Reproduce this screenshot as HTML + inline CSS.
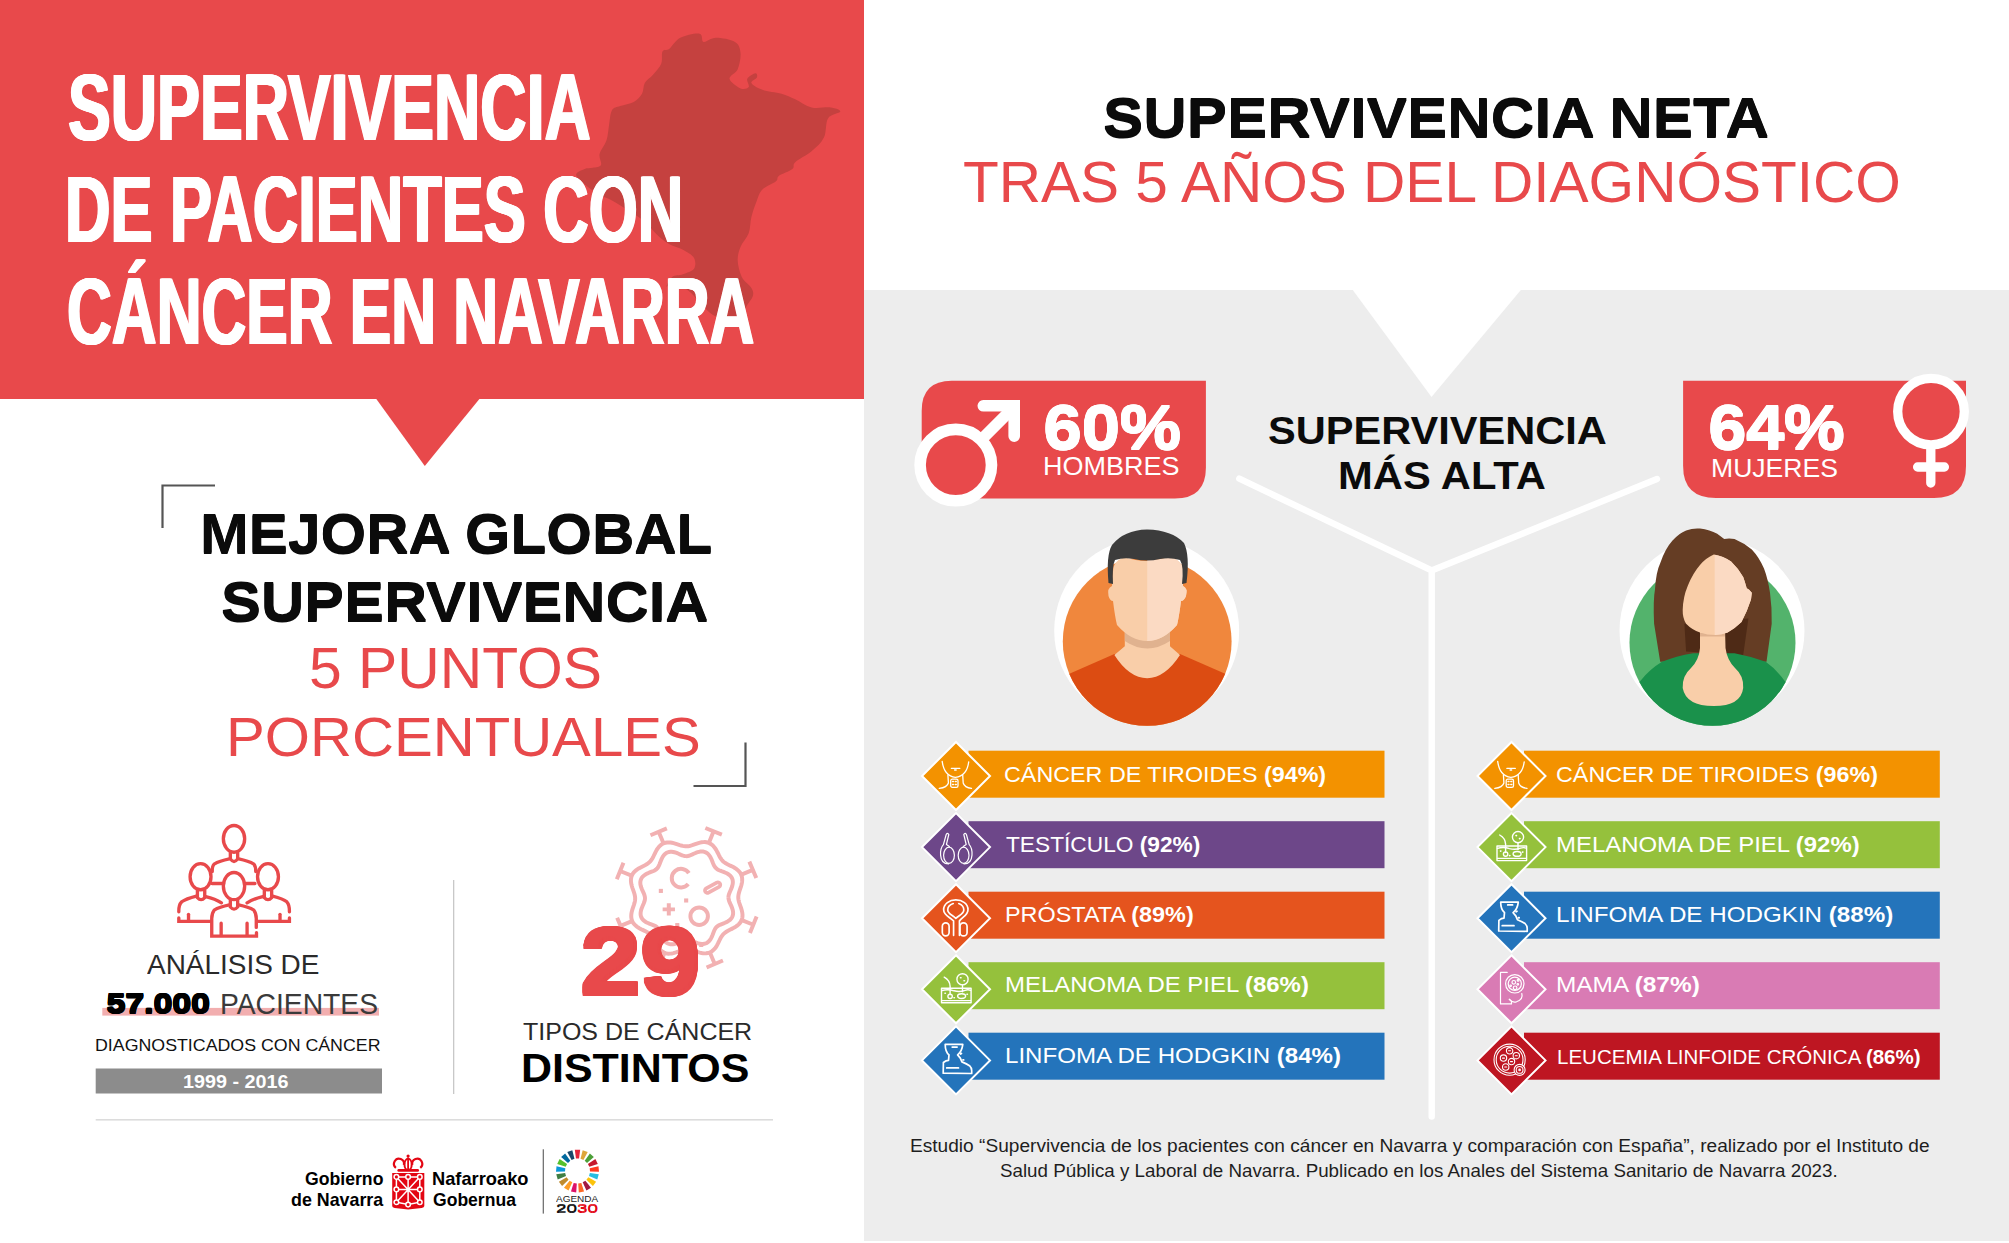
<!DOCTYPE html>
<html><head><meta charset="utf-8"><style>
html,body{margin:0;padding:0;}
body{width:2009px;height:1243px;position:relative;overflow:hidden;background:#fff;font-family:"Liberation Sans",sans-serif;}
.a{position:absolute;}
.t{position:absolute;white-space:nowrap;transform-origin:0 0;font-family:"Liberation Sans",sans-serif;}
svg{position:absolute;overflow:visible;}
</style></head><body>
<div class="a" style="left:0;top:0;width:864px;height:399px;background:#E8494B"></div>
<div class="a" style="left:864px;top:290px;width:1145px;height:951px;background:#EDEDED"></div>
<svg width="2009" height="1243" style="left:0;top:0" viewBox="0 0 2009 1243"><path d="M680.3 37.8 C685.3 35.3 695.6 33.0 699.5 33.7 C703.4 34.4 700.9 41.2 703.6 41.9 C706.3 42.6 710.7 37.8 715.9 37.8 C721.1 37.8 730.9 39.4 735.0 41.9 C739.1 44.4 740.0 48.2 740.5 52.8 C741.0 57.3 739.5 64.9 737.7 69.2 C735.9 73.5 729.0 75.6 729.5 78.8 C730.0 82.0 737.3 87.0 740.5 88.4 C743.7 89.8 747.6 88.6 748.7 87.0 C749.8 85.4 746.2 81.1 747.3 78.8 C748.4 76.5 753.9 73.5 755.5 73.3 C757.1 73.1 757.6 75.8 756.9 77.4 C756.2 79.0 750.5 80.9 751.4 82.9 C752.3 85.0 757.4 87.9 762.4 89.7 C767.4 91.5 776.0 92.2 781.5 93.8 C787.0 95.4 790.2 97.0 795.2 99.3 C800.2 101.6 805.7 106.1 811.6 107.5 C817.5 108.9 825.9 106.8 830.7 107.5 C835.5 108.2 840.8 109.8 840.3 111.6 C839.8 113.4 830.7 114.1 828.0 118.4 C825.3 122.7 826.6 132.1 823.9 137.6 C821.2 143.1 816.4 147.2 811.6 151.3 C806.8 155.4 798.4 159.2 795.2 162.2 C792.0 165.1 795.1 166.7 792.4 169.0 C789.7 171.3 781.5 173.8 778.8 175.9 C776.1 178.0 778.7 179.0 776.0 181.3 C773.3 183.6 765.6 186.3 762.4 189.5 C759.2 192.7 758.7 195.9 756.9 200.5 C755.1 205.1 752.8 211.4 751.4 216.9 C750.0 222.4 750.5 228.3 748.7 233.3 C746.9 238.3 742.3 242.4 740.5 247.0 C738.7 251.6 737.5 255.6 737.7 260.6 C737.9 265.6 739.5 272.4 741.8 277.0 C744.1 281.6 749.6 284.8 751.4 288.0 C753.2 291.2 753.7 293.0 752.8 296.2 C751.9 299.4 748.0 303.0 746.0 307.1 C744.0 311.2 742.3 318.1 740.5 320.8 C738.7 323.5 739.6 324.5 735.0 323.5 C730.4 322.5 718.9 318.6 713.0 315.0 C707.1 311.4 703.6 305.8 699.5 301.7 C695.4 297.6 692.6 293.9 688.5 290.7 C684.4 287.5 678.4 283.2 674.8 282.5 C671.1 281.8 667.0 287.5 666.6 286.6 C666.2 285.7 669.4 279.1 672.1 277.0 C674.8 274.9 679.4 275.7 683.0 274.3 C686.6 272.9 692.2 271.5 694.0 268.8 C695.8 266.1 695.8 261.1 694.0 257.9 C692.2 254.7 687.1 252.0 683.0 249.7 C678.9 247.4 673.5 246.5 669.4 244.2 C665.3 241.9 663.0 240.1 658.4 236.0 C653.8 231.9 647.5 224.2 642.0 219.6 C636.5 215.0 630.6 211.9 625.6 208.7 C620.6 205.5 617.0 203.2 612.0 200.5 C607.0 197.8 601.4 196.4 595.5 192.3 C589.6 188.2 578.2 179.8 576.4 175.9 C574.6 172.0 581.9 170.4 584.6 169.0 C587.3 167.6 590.1 168.4 592.8 167.7 C595.5 167.0 599.9 167.2 601.0 164.9 C602.1 162.6 598.7 158.1 599.6 154.0 C600.5 149.9 604.9 145.3 606.5 140.3 C608.1 135.3 608.3 128.9 609.2 123.9 C610.1 118.9 610.2 113.2 612.0 110.2 C613.8 107.2 616.6 107.5 620.2 106.1 C623.8 104.7 630.2 104.0 633.8 102.0 C637.4 100.0 640.2 97.0 642.0 93.8 C643.8 90.6 643.0 86.1 644.8 82.9 C646.6 79.7 650.3 77.9 653.0 74.7 C655.7 71.5 659.6 67.7 661.2 63.8 C662.8 59.9 661.1 53.9 662.5 51.4 C663.9 48.9 666.4 51.0 669.4 48.7 C672.4 46.4 675.3 40.3 680.3 37.8 Z" fill="#C5413F"/><polygon points="375.6,398 480.2,398 424.8,465.9" fill="#E8494B"/><path d="M215 485.5 L162.5 485.5 L162.5 528" fill="none" stroke="#555" stroke-width="2.2"/><path d="M693.5 786 L745.5 786 L745.5 742.5" fill="none" stroke="#555" stroke-width="2.2"/><rect x="102.3" y="1007.9" width="276.7" height="7.7" fill="#F2AEAF"/><rect x="95.7" y="1068.5" width="286.3" height="25" fill="#8C8C8C"/><rect x="453" y="880" width="1.3" height="214" fill="#C8C8C8"/><rect x="95.7" y="1119" width="677.3" height="1.6" fill="#DCDCDC"/><rect x="542.7" y="1149.3" width="1.2" height="64.3" fill="#666"/><polygon points="1352,289 1521.7,289 1431.5,397" fill="#fff"/><path d="M1239.3 478.7 L1431.7 570.5 L1657 479 M1431.7 570.5 L1431.7 1116.5" fill="none" stroke="#fff" stroke-width="6.4" stroke-linecap="round" stroke-linejoin="miter"/><path d="M951.7 380.7 L1205.9 380.7 L1205.9 467.5 Q1205.9 498.5 1174.9 498.5 L951.7 498.5 Q921.7 498.5 921.7 468.5 L921.7 410.7 Q921.7 380.7 951.7 380.7 Z" fill="#E8494B"/><path d="M1683.1 380.7 L1966 380.7 L1966 466 Q1966 498 1934 498 L1716 498 Q1683.1 498 1683.1 466 Z" fill="#E8494B"/><circle cx="955.8" cy="465.1" r="35.7" fill="#E8494B" stroke="#fff" stroke-width="11.6"/><path d="M980.5 440.5 L1012 409" stroke="#fff" stroke-width="11.6" fill="none"/><path d="M983.3 405.8 L1014.2 405.8 L1014.2 436.2" stroke="#fff" stroke-width="11.6" fill="none" stroke-linecap="round" stroke-linejoin="miter"/><circle cx="1931" cy="411.6" r="33.3" fill="#E8494B" stroke="#fff" stroke-width="9.3"/><path d="M1930.8 449 L1930.8 483 M1917.6 467 L1944.4 467" stroke="#fff" stroke-width="9.3" fill="none" stroke-linecap="round"/><circle cx="1146.7" cy="630.7" r="92.5" fill="#fff"/><clipPath id="cm"><circle cx="1147.2" cy="641.4" r="84.4"/></clipPath><circle cx="1147.2" cy="641.4" r="84.4" fill="#F0873D"/><g clip-path="url(#cm)"><path d="M1060 678 L1114.4 654 L1180 654 L1235 678 L1235 740 L1060 740 Z" fill="#DC4C12"/></g><path d="M1124.8 630 L1170 630 L1170 646.3 L1180 655 Q1165 678 1147.2 678.3 Q1129 678 1114.4 655 L1124.8 646.3 Z" fill="#F9CEA9"/><path d="M1124.8 628 L1170 628 L1170 641 Q1147.2 656 1124.8 641 Z" fill="#E0B28F"/><path d="M1113 572 Q1112 562 1124 557 Q1147 565 1171 557 Q1184 562 1183 572 L1183 586 Q1188 588 1186 596 Q1184 601 1181 601 Q1179 617 1177 625 Q1163 641 1147.2 641 Q1131 641 1117 625 Q1115 617 1113 601 Q1110 601 1108.5 596 Q1107 588 1112 586 Z" fill="#F9CEA9"/><path d="M1147.2 558 Q1159 561 1171 557 Q1184 562 1183 572 L1183 586 Q1188 588 1186 596 Q1184 601 1181 601 Q1179 617 1177 625 Q1163 641 1147.2 641 Z" fill="#FBDAC3"/><path d="M1108.5 583 Q1106 555 1112 545 Q1124 530 1147 529.5 Q1172 530 1184 543 Q1190 555 1186.5 583 L1182 584 Q1184 566 1180 560 Q1170 557 1160 559 Q1147 562 1134 559 Q1124 557 1115 560 Q1112 566 1113 584 Z" fill="#3C3C3C"/><circle cx="1712" cy="630.7" r="92.5" fill="#fff"/><clipPath id="cf"><circle cx="1712.5" cy="642.8" r="83"/></clipPath><circle cx="1712.5" cy="642.8" r="83" fill="#53B36C"/><path d="M1660.2 661.8 L1654.1 623.8 Q1653 600 1655 589.2 Q1656 572 1660.2 563.2 Q1665 549 1672.3 540.8 Q1679 533 1686.1 530.4 Q1693 528 1700 528.6 Q1710 530 1717.2 533.8 L1724.2 539 Q1729 538 1734.5 539 Q1744 543 1751.8 549.4 Q1759 557 1764 568.4 Q1768 579 1770 592.7 Q1772 607 1771.7 623.8 L1766.5 661.8 Z" fill="#653D24"/><path d="M1684.4 623.8 L1748.4 618.6 L1743.2 655 L1686.1 651.5 Z" fill="#4E2A16"/><g clip-path="url(#cf)"><path d="M1620 700 L1640.3 680.9 Q1650 669 1662 661.8 Q1676 656 1693 653.2 L1734.5 653.2 Q1750 656 1765.7 661.8 Q1776 669 1784.7 680.9 L1805 700 L1805 740 L1620 740 Z" fill="#1A914B"/></g><path d="M1700 628 L1725 628 L1725.5 648 Q1727 660 1735 668 Q1744 676 1743.2 688 Q1741 706 1713.8 706 Q1686 706 1682.7 688 Q1682 676 1691 668 Q1699 660 1700 648 Z" fill="#F9CEA9"/><path d="M1700 633 L1725 633 L1725 636.5 L1700 636.5 Z" fill="#E0B28F"/><path d="M1713.8 554.6 Q1706 558 1700 565 Q1693 573 1687.8 585.7 Q1683 597 1682.7 610 Q1682.5 618 1686.1 623.8 Q1692 630 1700 632.4 Q1707 635 1715.5 635 Q1722 634.5 1727.6 632.4 Q1735 628.5 1741.5 622 Q1747 612 1751 599.6 L1751.8 592.7 Q1749 589 1746.7 588.3 Q1745 582 1743.2 577.1 Q1738 568 1731.1 561.5 Q1723 556 1713.8 554.6 Z" fill="#F9CEA9"/><path d="M1714.7 554.7 Q1723 556 1731.1 561.5 Q1738 568 1743.2 577.1 Q1745 582 1746.7 588.3 Q1749 589 1751.8 592.7 L1751 599.6 Q1747 612 1741.5 622 Q1735 628.5 1727.6 632.4 Q1722 634.5 1715.5 635 L1714.7 635 Z" fill="#FBDAC3"/><rect x="968.5" y="750.7" width="416.0" height="47" fill="#F39200"/><rect x="1524" y="750.7" width="415.8" height="47" fill="#F39200"/><rect x="968.5" y="821.2" width="416.0" height="47" fill="#6D4789"/><rect x="1524" y="821.2" width="415.8" height="47" fill="#95C13C"/><rect x="968.5" y="891.7" width="416.0" height="47" fill="#E5541E"/><rect x="1524" y="891.7" width="415.8" height="47" fill="#2474BB"/><rect x="968.5" y="962.2" width="416.0" height="47" fill="#95C13C"/><rect x="1524" y="962.2" width="415.8" height="47" fill="#D97BB4"/><rect x="968.5" y="1032.7" width="416.0" height="47" fill="#2474BB"/><rect x="1524" y="1032.7" width="415.8" height="47" fill="#BE1622"/><polygon points="956,742.0 990,776.0 956,810.0 922,776.0" fill="#F39200" stroke="#fff" stroke-width="2"/><polygon points="1511.5,742.0 1545.5,776.0 1511.5,810.0 1477.5,776.0" fill="#F39200" stroke="#fff" stroke-width="2"/><polygon points="956,813.1 990,847.1 956,881.1 922,847.1" fill="#6D4789" stroke="#fff" stroke-width="2"/><polygon points="1511.5,813.1 1545.5,847.1 1511.5,881.1 1477.5,847.1" fill="#95C13C" stroke="#fff" stroke-width="2"/><polygon points="956,884.2 990,918.2 956,952.2 922,918.2" fill="#E5541E" stroke="#fff" stroke-width="2"/><polygon points="1511.5,884.2 1545.5,918.2 1511.5,952.2 1477.5,918.2" fill="#2474BB" stroke="#fff" stroke-width="2"/><polygon points="956,955.3 990,989.3 956,1023.3 922,989.3" fill="#95C13C" stroke="#fff" stroke-width="2"/><polygon points="1511.5,955.3 1545.5,989.3 1511.5,1023.3 1477.5,989.3" fill="#D97BB4" stroke="#fff" stroke-width="2"/><polygon points="956,1026.4 990,1060.4 956,1094.4 922,1060.4" fill="#2474BB" stroke="#fff" stroke-width="2"/><polygon points="1511.5,1026.4 1545.5,1060.4 1511.5,1094.4 1477.5,1060.4" fill="#BE1622" stroke="#fff" stroke-width="2"/><g transform="translate(956.0,776.0) scale(1)" fill="none" stroke="#fff" stroke-width="1.3" stroke-linecap="round" stroke-linejoin="round"><path d="M-13.8 -14.6 Q-12 0 -0.6 1.3 Q11 0 12.7 -14.1"/><path d="M-4.6 -7.6 L3.8 -7.6 M-1.4 -6 L0.2 -6"/><path d="M-8.1 -1.1 L-7.6 7 Q-9 11.5 -16.7 12.4"/><path d="M6.7 -1.1 L7.2 7 Q8.5 11.5 15.5 12.4"/><rect x="-5.3" y="3.2" width="7.3" height="8.1" rx="1.6"/><path d="M-3.4 5.5 L-2.6 5.5 M-0.6 5.5 L0.2 5.5 M-3.4 8.5 L-2.6 8.5 M-0.6 8.5 L0.2 8.5" stroke-width="1.6"/></g><g transform="translate(1511.5,776.0) scale(1)" fill="none" stroke="#fff" stroke-width="1.3" stroke-linecap="round" stroke-linejoin="round"><path d="M-13.8 -14.6 Q-12 0 -0.6 1.3 Q11 0 12.7 -14.1"/><path d="M-4.6 -7.6 L3.8 -7.6 M-1.4 -6 L0.2 -6"/><path d="M-8.1 -1.1 L-7.6 7 Q-9 11.5 -16.7 12.4"/><path d="M6.7 -1.1 L7.2 7 Q8.5 11.5 15.5 12.4"/><rect x="-5.3" y="3.2" width="7.3" height="8.1" rx="1.6"/><path d="M-3.4 5.5 L-2.6 5.5 M-0.6 5.5 L0.2 5.5 M-3.4 8.5 L-2.6 8.5 M-0.6 8.5 L0.2 8.5" stroke-width="1.6"/></g><g transform="translate(956.0,847.1) scale(1)" fill="none" stroke="#fff" stroke-width="1.2" stroke-linecap="round" stroke-linejoin="round"><ellipse cx="-7" cy="8.2" rx="5.4" ry="8.1"/><path d="M-7.5 16.8 Q-14.8 16.6 -15.4 8 Q-15.8 1 -12.6 -2.4 L-9.8 -12.6 Q-8.4 -15 -7.2 -12.6 L-9.6 -2.6 Q-8 -1.6 -6.6 -0.6"/><g transform="translate(0.6,0) scale(-1,1)"><ellipse cx="-7" cy="8.2" rx="5.4" ry="8.1"/><path d="M-7.5 16.8 Q-14.8 16.6 -15.4 8 Q-15.8 1 -12.6 -2.4 L-9.8 -12.6 Q-8.4 -15 -7.2 -12.6 L-9.6 -2.6 Q-8 -1.6 -6.6 -0.6"/></g></g><g transform="translate(1511.5,847.1) scale(1)" fill="none" stroke="#fff" stroke-width="1.4" stroke-linecap="round" stroke-linejoin="round"><rect x="-14.5" y="-1.1" width="29.6" height="14.6"/><path d="M-14 11.3 L14.6 11.3"/><path d="M-14 1.2 Q-8 -0.5 -2 1.5 Q4 3 9 1 Q12 0 14.6 1"/><path d="M-11.8 -12.1 Q-6.2 -9 -5.9 -3 L-5.9 5.5"/><circle cx="-5.9" cy="7" r="2.2"/><circle cx="6.5" cy="-10" r="5.6"/><path d="M6.5 -4.4 L6.5 2.4"/><ellipse cx="5.6" cy="6.8" rx="4" ry="2.4"/><path d="M4.5 -11.5 L5 -11.5 M8 -8.5 L8.5 -8.5 M-11 4 L-10.6 4 M11 5 L11.4 5 M-2 8.5 L-1.6 8.5" stroke-width="1.6"/></g><g transform="translate(956.0,917.7) scale(0.93)" fill="none" stroke="#fff" stroke-width="1.8" stroke-linecap="round" stroke-linejoin="round"><path d="M-2.6 19 L-2.6 3.4 C-8 -1.5 -13.3 -3 -13.3 -8.6 C-13.3 -15 -7 -19.1 -0.2 -19.1 C7 -19.1 12.9 -15 12.9 -8.6 C12.9 -3 8 -1.5 3.7 3.4 L3.7 19"/><path d="M-3 -15.2 C-6.5 -14 -8.9 -11.5 -8.9 -8.3 C-8.9 -4 -3 -2.5 -0.2 0.8 C3 -2.5 8.4 -4 8.4 -8.3 C8.4 -11.5 6 -14 3 -15.2"/><rect x="-14.7" y="5.5" width="7.3" height="14.1" rx="3.6"/><rect x="4.3" y="5.5" width="7.6" height="14.1" rx="3.7"/></g><g transform="translate(1511.5,918.2) scale(1)" fill="none" stroke="#fff" stroke-width="1.7" stroke-linecap="round" stroke-linejoin="round"><path d="M-10.8 -16 L6.8 -16 Q6 -9 1.6 -5.5 L4.3 -2.3 L5.9 1.5 Q11 3.5 13.5 5.3 Q15.7 7.5 15.7 10.1 L15.7 13.1 L-12.8 12.8 L-12.6 2.1 Q-10 0 -7.5 0 L-7 -5.5 Q-10.8 -9 -10.8 -16 Z"/><path d="M-3.8 -13.3 L1.1 -13.3 M-9.3 7.5 L2.5 7.5"/><path d="M4.6 -6.5 L5.4 -7 M7 -0.5 L7.6 -0.5" stroke-width="1.9"/></g><g transform="translate(956.0,989.3) scale(1)" fill="none" stroke="#fff" stroke-width="1.4" stroke-linecap="round" stroke-linejoin="round"><rect x="-14.5" y="-1.1" width="29.6" height="14.6"/><path d="M-14 11.3 L14.6 11.3"/><path d="M-14 1.2 Q-8 -0.5 -2 1.5 Q4 3 9 1 Q12 0 14.6 1"/><path d="M-11.8 -12.1 Q-6.2 -9 -5.9 -3 L-5.9 5.5"/><circle cx="-5.9" cy="7" r="2.2"/><circle cx="6.5" cy="-10" r="5.6"/><path d="M6.5 -4.4 L6.5 2.4"/><ellipse cx="5.6" cy="6.8" rx="4" ry="2.4"/><path d="M4.5 -11.5 L5 -11.5 M8 -8.5 L8.5 -8.5 M-11 4 L-10.6 4 M11 5 L11.4 5 M-2 8.5 L-1.6 8.5" stroke-width="1.6"/></g><g transform="translate(1511.5,989.3) scale(1)" fill="none" stroke="#fff" stroke-width="1.2" stroke-linecap="round" stroke-linejoin="round"><path d="M-4.3 -16.9 L-11 -16.9 L-11 14.6 L0 14.6 L0 11.8 L-2.2 10"/><circle cx="3.3" cy="-5.5" r="9.2"/><circle cx="3.3" cy="-5.5" r="6.6"/><path d="M10.3 4.2 Q12 10 5 12.5 Q0 13.5 -2.2 10"/><circle cx="2.3" cy="-7" r="1.8"/><circle cx="3.6" cy="-1.5" r="1.8"/><circle cx="6.6" cy="-9" r="0.9"/><circle cx="6.3" cy="-5" r="0.8"/><circle cx="-0.9" cy="-3.5" r="0.8"/></g><g transform="translate(956.0,1060.4) scale(1)" fill="none" stroke="#fff" stroke-width="1.7" stroke-linecap="round" stroke-linejoin="round"><path d="M-10.8 -16 L6.8 -16 Q6 -9 1.6 -5.5 L4.3 -2.3 L5.9 1.5 Q11 3.5 13.5 5.3 Q15.7 7.5 15.7 10.1 L15.7 13.1 L-12.8 12.8 L-12.6 2.1 Q-10 0 -7.5 0 L-7 -5.5 Q-10.8 -9 -10.8 -16 Z"/><path d="M-3.8 -13.3 L1.1 -13.3 M-9.3 7.5 L2.5 7.5"/><path d="M4.6 -6.5 L5.4 -7 M7 -0.5 L7.6 -0.5" stroke-width="1.9"/></g><g transform="translate(1511.5,1060.4) scale(1)" fill="none" stroke="#fff" stroke-width="1.1" stroke-linecap="round" stroke-linejoin="round"><circle cx="-1.9" cy="-0.7" r="15.6"/><circle cx="-1.9" cy="-0.7" r="13.4"/><circle cx="8.1" cy="9.5" r="5.5" fill="#BE1622"/><circle cx="8.1" cy="9.5" r="3.4"/><circle cx="8.1" cy="9.5" r="0.8"/><circle cx="-1.9" cy="-9.6" r="3.2"/><circle cx="4.8" cy="-4.7" r="3.2"/><circle cx="-8" cy="-2.3" r="3.2"/><circle cx="0" cy="1.2" r="3.2"/><circle cx="-5.8" cy="6.6" r="3.2"/><path d="M-2.9 -9.6 L-0.9 -9.6 M3.8 -4.7 L5.8 -4.7 M-9 -2.3 L-7 -2.3 M-1 1.2 L1 1.2 M-6.8 6.6 L-4.8 6.6"/></g><g transform="translate(165,815) scale(0.10456)" fill="none" stroke="#E8494B" stroke-width="32" stroke-linecap="round"><ellipse cx="660" cy="228" rx="102" ry="128"/><path d="M625 360 L625 420 Q660 470 695 420 L695 360"/><path d="M615 420 Q520 440 470 470 Q450 490 452 540"/><path d="M705 420 Q800 440 850 470 Q868 490 868 540"/><path d="M450 655 L560 655 M770 655 L860 655"/><ellipse cx="340" cy="590" rx="100" ry="125"/><path d="M310 720 L310 790 Q345 830 380 790 L380 720"/><path d="M300 775 Q200 800 160 830 Q130 860 132 925"/><path d="M390 780 Q480 800 540 840"/><path d="M132 985 L132 1018 L430 1018"/><path d="M225 950 L225 1010"/><ellipse cx="985" cy="590" rx="100" ry="125"/><path d="M950 720 L950 790 Q985 830 1020 790 L1020 720"/><path d="M935 780 Q850 800 785 840"/><path d="M1030 775 Q1130 800 1165 830 Q1192 860 1190 925"/><path d="M1190 985 L1190 1018 L885 1018"/><path d="M1100 950 L1100 1010"/><ellipse cx="660" cy="680" rx="102" ry="130"/><path d="M625 815 L625 880 Q660 920 695 880 L695 815"/><path d="M615 860 Q520 880 470 910 Q447 940 447 990 L447 1158 L875 1158 L875 1125"/><path d="M705 860 Q800 880 850 910 Q873 940 873 990 L873 1075"/><path d="M537 1035 L537 1150 M785 1035 L785 1150"/></g><g transform="translate(600,815) scale(0.13677)" fill="none" stroke="#F2B1B2" stroke-width="29"><path d="M1011.1 606.0 L1012.0 615.9 L1013.8 625.9 L1016.4 636.1 L1019.6 646.5 L1023.4 657.3 L1027.3 668.3 L1031.3 679.6 L1034.9 691.2 L1038.0 703.0 L1040.3 714.9 L1041.6 726.7 L1041.8 738.5 L1040.6 750.0 L1038.0 761.1 L1034.0 771.7 L1028.6 781.7 L1021.9 791.0 L1014.0 799.6 L1005.1 807.5 L995.4 814.6 L985.1 821.2 L974.5 827.1 L963.8 832.6 L953.2 837.9 L942.9 843.0 L933.1 848.2 L923.9 853.6 L915.4 859.4 L907.7 865.7 L900.6 872.6 L894.3 880.3 L888.5 888.6 L883.1 897.7 L878.0 907.3 L873.1 917.6 L868.1 928.2 L862.8 939.0 L857.2 949.7 L851.1 960.3 L844.3 970.3 L836.9 979.6 L828.6 988.0 L819.7 995.3 L810.0 1001.3 L799.7 1006.0 L788.8 1009.2 L777.4 1011.1 L765.8 1011.6 L753.9 1010.9 L742.0 1009.1 L730.1 1006.4 L718.4 1003.1 L706.9 999.4 L695.7 995.7 L684.8 992.0 L674.2 988.8 L663.9 986.1 L653.8 984.2 L643.9 983.1 L634.0 983.1 L624.1 984.0 L614.1 985.8 L603.9 988.4 L593.5 991.6 L582.7 995.4 L571.7 999.3 L560.4 1003.3 L548.8 1006.9 L537.0 1010.0 L525.1 1012.3 L513.3 1013.6 L501.5 1013.8 L490.0 1012.6 L478.9 1010.0 L468.3 1006.0 L458.3 1000.6 L449.0 993.9 L440.4 986.0 L432.5 977.1 L425.4 967.4 L418.8 957.1 L412.9 946.5 L407.4 935.8 L402.1 925.2 L397.0 914.9 L391.8 905.1 L386.4 895.9 L380.6 887.4 L374.3 879.7 L367.4 872.6 L359.7 866.3 L351.4 860.5 L342.3 855.1 L332.7 850.0 L322.4 845.1 L311.8 840.1 L301.0 834.8 L290.3 829.2 L279.7 823.1 L269.7 816.3 L260.4 808.9 L252.0 800.6 L244.7 791.7 L238.7 782.0 L234.0 771.7 L230.8 760.8 L228.9 749.4 L228.4 737.8 L229.1 725.9 L230.9 714.0 L233.6 702.1 L236.9 690.4 L240.6 678.9 L244.3 667.7 L248.0 656.8 L251.2 646.2 L253.9 635.9 L255.8 625.8 L256.9 615.9 L256.9 606.0 L256.0 596.1 L254.2 586.1 L251.6 575.9 L248.4 565.5 L244.6 554.7 L240.7 543.7 L236.7 532.4 L233.1 520.8 L230.0 509.0 L227.7 497.1 L226.4 485.3 L226.2 473.5 L227.4 462.0 L230.0 450.9 L234.0 440.3 L239.4 430.3 L246.1 421.0 L254.0 412.4 L262.9 404.5 L272.6 397.4 L282.9 390.8 L293.5 384.9 L304.2 379.4 L314.8 374.1 L325.1 369.0 L334.9 363.8 L344.1 358.4 L352.6 352.6 L360.3 346.3 L367.4 339.4 L373.7 331.7 L379.5 323.4 L384.9 314.3 L390.0 304.7 L394.9 294.4 L399.9 283.8 L405.2 273.0 L410.8 262.3 L416.9 251.7 L423.7 241.7 L431.1 232.4 L439.4 224.0 L448.3 216.7 L458.0 210.7 L468.3 206.0 L479.2 202.8 L490.6 200.9 L502.2 200.4 L514.1 201.1 L526.0 202.9 L537.9 205.6 L549.6 208.9 L561.1 212.6 L572.3 216.3 L583.2 220.0 L593.8 223.2 L604.1 225.9 L614.2 227.8 L624.1 228.9 L634.0 228.9 L643.9 228.0 L653.9 226.2 L664.1 223.6 L674.5 220.4 L685.3 216.6 L696.3 212.7 L707.6 208.7 L719.2 205.1 L731.0 202.0 L742.9 199.7 L754.7 198.4 L766.5 198.2 L778.0 199.4 L789.1 202.0 L799.7 206.0 L809.7 211.4 L819.0 218.1 L827.6 226.0 L835.5 234.9 L842.6 244.6 L849.2 254.9 L855.1 265.5 L860.6 276.2 L865.9 286.8 L871.0 297.1 L876.2 306.9 L881.6 316.1 L887.4 324.6 L893.7 332.3 L900.6 339.4 L908.3 345.7 L916.6 351.5 L925.7 356.9 L935.3 362.0 L945.6 366.9 L956.2 371.9 L967.0 377.2 L977.7 382.8 L988.3 388.9 L998.3 395.7 L1007.6 403.1 L1016.0 411.4 L1023.3 420.3 L1029.3 430.0 L1034.0 440.3 L1037.2 451.2 L1039.1 462.6 L1039.6 474.2 L1038.9 486.1 L1037.1 498.0 L1034.4 509.9 L1031.1 521.6 L1027.4 533.1 L1023.7 544.3 L1020.0 555.2 L1016.8 565.8 L1014.1 576.1 L1012.2 586.2 L1011.1 596.1 L1011.1 606.0"/><path d="M939.1 606.0 L940.0 614.0 L941.9 622.1 L944.6 630.4 L948.0 639.0 L952.0 647.9 L956.2 657.0 L960.5 666.5 L964.5 676.2 L968.0 686.2 L970.8 696.2 L972.6 706.3 L973.3 716.2 L972.7 725.9 L970.8 735.3 L967.5 744.1 L962.8 752.4 L956.9 760.0 L949.8 766.9 L941.8 773.1 L933.0 778.6 L923.7 783.5 L914.1 787.9 L904.4 791.9 L894.9 795.6 L885.8 799.2 L877.1 802.9 L869.2 806.8 L861.9 811.2 L855.4 816.1 L849.7 821.7 L844.7 828.0 L840.3 835.1 L836.3 842.9 L832.7 851.4 L829.2 860.4 L825.8 869.9 L822.1 879.6 L818.0 889.4 L813.5 898.9 L808.3 907.9 L802.5 916.3 L796.0 923.9 L788.7 930.3 L780.7 935.5 L772.1 939.5 L763.0 942.0 L753.4 943.2 L743.5 943.1 L733.5 941.8 L723.4 939.5 L713.3 936.4 L703.4 932.7 L693.8 928.6 L684.5 924.5 L675.4 920.6 L666.7 917.1 L658.3 914.3 L650.1 912.3 L642.0 911.2 L634.0 911.1 L626.0 912.0 L617.9 913.9 L609.6 916.6 L601.0 920.0 L592.1 924.0 L583.0 928.2 L573.5 932.5 L563.8 936.5 L553.8 940.0 L543.8 942.8 L533.7 944.6 L523.8 945.3 L514.1 944.7 L504.7 942.8 L495.9 939.5 L487.6 934.8 L480.0 928.9 L473.1 921.8 L466.9 913.8 L461.4 905.0 L456.5 895.7 L452.1 886.1 L448.1 876.4 L444.4 866.9 L440.8 857.8 L437.1 849.1 L433.2 841.2 L428.8 833.9 L423.9 827.4 L418.3 821.7 L412.0 816.7 L404.9 812.3 L397.1 808.3 L388.6 804.7 L379.6 801.2 L370.1 797.8 L360.4 794.1 L350.6 790.0 L341.1 785.5 L332.1 780.3 L323.7 774.5 L316.1 768.0 L309.7 760.7 L304.5 752.7 L300.5 744.1 L298.0 735.0 L296.8 725.4 L296.9 715.5 L298.2 705.5 L300.5 695.4 L303.6 685.3 L307.3 675.4 L311.4 665.8 L315.5 656.5 L319.4 647.4 L322.9 638.7 L325.7 630.3 L327.7 622.1 L328.8 614.0 L328.9 606.0 L328.0 598.0 L326.1 589.9 L323.4 581.6 L320.0 573.0 L316.0 564.1 L311.8 555.0 L307.5 545.5 L303.5 535.8 L300.0 525.8 L297.2 515.8 L295.4 505.7 L294.7 495.8 L295.3 486.1 L297.2 476.7 L300.5 467.9 L305.2 459.6 L311.1 452.0 L318.2 445.1 L326.2 438.9 L335.0 433.4 L344.3 428.5 L353.9 424.1 L363.6 420.1 L373.1 416.4 L382.2 412.8 L390.9 409.1 L398.8 405.2 L406.1 400.8 L412.6 395.9 L418.3 390.3 L423.3 384.0 L427.7 376.9 L431.7 369.1 L435.3 360.6 L438.8 351.6 L442.2 342.1 L445.9 332.4 L450.0 322.6 L454.5 313.1 L459.7 304.1 L465.5 295.7 L472.0 288.1 L479.3 281.7 L487.3 276.5 L495.9 272.5 L505.0 270.0 L514.6 268.8 L524.5 268.9 L534.5 270.2 L544.6 272.5 L554.7 275.6 L564.6 279.3 L574.2 283.4 L583.5 287.5 L592.6 291.4 L601.3 294.9 L609.7 297.7 L617.9 299.7 L626.0 300.8 L634.0 300.9 L642.0 300.0 L650.1 298.1 L658.4 295.4 L667.0 292.0 L675.9 288.0 L685.0 283.8 L694.5 279.5 L704.2 275.5 L714.2 272.0 L724.2 269.2 L734.3 267.4 L744.2 266.7 L753.9 267.3 L763.3 269.2 L772.1 272.5 L780.4 277.2 L788.0 283.1 L794.9 290.2 L801.1 298.2 L806.6 307.0 L811.5 316.3 L815.9 325.9 L819.9 335.6 L823.6 345.1 L827.2 354.2 L830.9 362.9 L834.8 370.8 L839.2 378.1 L844.1 384.6 L849.7 390.3 L856.0 395.3 L863.1 399.7 L870.9 403.7 L879.4 407.3 L888.4 410.8 L897.9 414.2 L907.6 417.9 L917.4 422.0 L926.9 426.5 L935.9 431.7 L944.3 437.5 L951.9 444.0 L958.3 451.3 L963.5 459.3 L967.5 467.9 L970.0 477.0 L971.2 486.6 L971.1 496.5 L969.8 506.5 L967.5 516.6 L964.4 526.7 L960.7 536.6 L956.6 546.2 L952.5 555.5 L948.6 564.6 L945.1 573.3 L942.3 581.7 L940.3 589.9 L939.2 598.0 L939.1 606.0"/><path d="M1032.7 767.1 L1120.8 802.7 M1145.1 742.4 L1096.4 862.9"/><path d="M802.0 1001.8 L839.1 1089.3 M899.0 1063.9 L779.3 1114.7"/><path d="M472.9 1004.7 L437.3 1092.8 M497.6 1117.1 L377.1 1068.4"/><path d="M238.2 774.0 L150.7 811.1 M176.1 871.0 L125.3 751.3"/><path d="M235.3 444.9 L147.2 409.3 M122.9 469.6 L171.6 349.1"/><path d="M466.0 210.2 L428.9 122.7 M369.0 148.1 L488.7 97.3"/><path d="M795.1 207.3 L830.7 119.2 M770.4 94.9 L890.9 143.6"/><path d="M1029.8 438.0 L1117.3 400.9 M1091.9 341.0 L1142.7 460.7"/><path d="M650 425 A68 68 0 1 0 645 505"/><path d="M785 552 L862 510" stroke-width="62" stroke-linecap="round"/><path d="M785 552 L862 510" stroke="#fff" stroke-width="8" stroke-linecap="round"/><circle cx="725" cy="740" r="64"/><path d="M458 690 L548 690 M503 645 L503 735"/><rect x="430" y="540" width="30" height="30" fill="#F2B1B2" stroke="none"/><rect x="615" y="610" width="30" height="30" fill="#F2B1B2" stroke="none"/><rect x="550" y="790" width="30" height="30" fill="#F2B1B2" stroke="none"/><rect x="725" y="935" width="30" height="30" fill="#F2B1B2" stroke="none"/></g><g transform="translate(391.7,1154.4)"><path d="M0.5 18.6 L32.6 18.6 L32.6 51.5 Q32.6 53 30 53.5 L16.5 55 L3 53.5 Q0.5 53 0.5 51.5 Z" fill="#E30613"/><path d="M4.7 22.5 L16.4 22.5 L28.1 22.5 L28.1 35 L28.1 47.8 L16.4 50.2 L4.7 47.8 L4.7 35 Z M4.7 22.5 L28.1 47.8 M28.1 22.5 L4.7 47.8 M16.4 22.5 L16.4 50.2 M4.7 35 L28.1 35" fill="none" stroke="#fff" stroke-width="1.5"/><circle cx="4.7" cy="22.5" r="2.3" fill="#E30613" stroke="#fff" stroke-width="1.5"/><circle cx="16.4" cy="22.5" r="2.3" fill="#E30613" stroke="#fff" stroke-width="1.5"/><circle cx="28.1" cy="22.5" r="2.3" fill="#E30613" stroke="#fff" stroke-width="1.5"/><circle cx="28.1" cy="35" r="2.3" fill="#E30613" stroke="#fff" stroke-width="1.5"/><circle cx="28.1" cy="47.8" r="2.3" fill="#E30613" stroke="#fff" stroke-width="1.5"/><circle cx="16.4" cy="50.2" r="2.3" fill="#E30613" stroke="#fff" stroke-width="1.5"/><circle cx="4.7" cy="47.8" r="2.3" fill="#E30613" stroke="#fff" stroke-width="1.5"/><circle cx="4.7" cy="35" r="2.3" fill="#E30613" stroke="#fff" stroke-width="1.5"/><path d="M7 16 L26 16" stroke="#E30613" stroke-width="2.6" stroke-linecap="round"/><path d="M4.2 13.5 A5 5.2 0 1 1 12.2 10.5 M28.6 13.5 A5 5.2 0 1 0 20.6 10.5" fill="none" stroke="#E30613" stroke-width="2.2"/><ellipse cx="16.4" cy="10" rx="3.6" ry="5.6" fill="none" stroke="#E30613" stroke-width="2"/><path d="M16.4 3 L16.4 15" stroke="#E30613" stroke-width="1.8"/><circle cx="16.4" cy="1.6" r="1.6" fill="#E30613"/></g><polygon points="574.82,1149.67 580.18,1149.67 579.06,1158.60 575.94,1158.60" fill="#E5243B"/><polygon points="582.71,1150.14 587.70,1152.07 583.43,1160.00 580.53,1158.87" fill="#DDA63A"/><polygon points="589.89,1153.43 593.85,1157.04 587.01,1162.88 584.71,1160.79" fill="#4C9F38"/><polygon points="595.40,1159.10 597.79,1163.89 589.30,1166.86 587.91,1164.08" fill="#C5192D"/><polygon points="598.49,1166.37 598.99,1171.70 589.99,1171.40 589.71,1168.31" fill="#FF3A21"/><polygon points="598.75,1174.26 597.29,1179.41 589.00,1175.89 589.86,1172.90" fill="#26BDE2"/><polygon points="596.14,1181.72 592.91,1185.99 586.46,1179.72 588.34,1177.23" fill="#FCC30B"/><polygon points="591.01,1187.73 586.45,1190.55 582.71,1182.36 585.35,1180.73" fill="#A21942"/><polygon points="584.05,1191.48 578.79,1192.46 578.25,1183.48 581.31,1182.91" fill="#FD6925"/><polygon points="576.21,1192.46 570.95,1191.48 573.69,1182.91 576.75,1183.48" fill="#DD1367"/><polygon points="568.55,1190.55 563.99,1187.73 569.65,1180.73 572.29,1182.36" fill="#FD9D24"/><polygon points="562.09,1185.99 558.86,1181.72 566.66,1177.23 568.54,1179.72" fill="#BF8B2E"/><polygon points="557.71,1179.41 556.25,1174.26 565.14,1172.90 566.00,1175.89" fill="#3F7E44"/><polygon points="556.01,1171.70 556.51,1166.37 565.29,1168.31 565.01,1171.40" fill="#0A97D9"/><polygon points="557.21,1163.89 559.60,1159.10 567.09,1164.08 565.70,1166.86" fill="#56C02B"/><polygon points="561.15,1157.04 565.11,1153.43 570.29,1160.79 567.99,1162.88" fill="#00689D"/><polygon points="567.30,1152.07 572.29,1150.14 574.47,1158.87 571.57,1160.00" fill="#19486A"/></svg>
<div class="t" style="left:66.64px;top:60.01px;font-size:94.48px;line-height:94.48px;color:#FFFFFF;transform:scaleX(0.6790);text-shadow:0.75px 0.00px 0,1.50px 0.00px 0,2.25px 0.00px 0,3.00px 0.00px 0;"><span style="font-weight:700">SUPERVIVENCIA</span></div>
<div class="t" style="left:64.00px;top:162.01px;font-size:94.48px;line-height:94.48px;color:#FFFFFF;transform:scaleX(0.6666);text-shadow:0.75px 0.00px 0,1.50px 0.00px 0,2.25px 0.00px 0,3.00px 0.00px 0;"><span style="font-weight:700">DE PACIENTES CON</span></div>
<div class="t" style="left:66.03px;top:264.01px;font-size:94.48px;line-height:94.48px;color:#FFFFFF;transform:scaleX(0.6571);text-shadow:0.75px 0.00px 0,1.50px 0.00px 0,2.25px 0.00px 0,3.00px 0.00px 0;"><span style="font-weight:700">CÁNCER EN NAVARRA</span></div>
<div class="t" style="left:199.87px;top:505.40px;font-size:56.11px;line-height:56.11px;color:#0B0B0B;transform:scaleX(1.0448);text-shadow:0.00px 0.75px 0,0.00px 1.50px 0;"><span style="font-weight:700">MEJORA GLOBAL</span></div>
<div class="t" style="left:220.93px;top:573.12px;font-size:55.96px;line-height:55.96px;color:#0B0B0B;transform:scaleX(1.0691);text-shadow:0.00px 0.75px 0,0.00px 1.50px 0;"><span style="font-weight:700">SUPERVIVENCIA</span></div>
<div class="t" style="left:308.93px;top:640.58px;font-size:56.83px;line-height:56.83px;color:#E8494B;transform:scaleX(1.0349);"><span style="font-weight:400">5 PUNTOS</span></div>
<div class="t" style="left:225.87px;top:709.37px;font-size:56.25px;line-height:56.25px;color:#E8494B;transform:scaleX(1.0332);"><span style="font-weight:400">PORCENTUALES</span></div>
<div class="t" style="left:147.00px;top:950.62px;font-size:27.62px;line-height:27.62px;color:#2a2a2a;transform:scaleX(1.0123);"><span style="font-weight:400">ANÁLISIS DE</span></div>
<div class="t" style="left:106.00px;top:989.12px;font-size:27.62px;line-height:27.62px;color:#000;transform:scaleX(1.2222);text-shadow:0.00px 0.75px 0,0.00px 1.50px 0,0.50px 0.00px 0,0.50px 0.75px 0,0.50px 1.50px 0,1.00px 0.00px 0,1.00px 0.75px 0,1.00px 1.50px 0;"><span style="font-weight:700">57.000</span></div>
<div class="t" style="left:220.03px;top:989.76px;font-size:28.63px;line-height:28.63px;color:#3a3a3a;transform:scaleX(0.9871);"><span style="font-weight:400">PACIENTES</span></div>
<div class="t" style="left:94.87px;top:1037.51px;font-size:15.70px;line-height:15.70px;color:#111;transform:scaleX(1.1334);"><span style="font-weight:400">DIAGNOSTICADOS CON CÁNCER</span></div>
<div class="t" style="left:183.36px;top:1071.68px;font-size:19.04px;line-height:19.04px;color:#FFF;transform:scaleX(1.0390);"><span style="font-weight:700">1999 - 2016</span></div>
<div class="t" style="left:578.59px;top:912.01px;font-size:94.48px;line-height:94.48px;color:#E8494B;transform:scaleX(1.1381);text-shadow:0.00px 0.70px 0,0.00px 1.40px 0,0.00px 2.10px 0,0.00px 2.80px 0,0.00px 3.50px 0,0.75px 0.00px 0,0.75px 0.70px 0,0.75px 1.40px 0,0.75px 2.10px 0,0.75px 2.80px 0,0.75px 3.50px 0,1.50px 0.00px 0,1.50px 0.70px 0,1.50px 1.40px 0,1.50px 2.10px 0,1.50px 2.80px 0,1.50px 3.50px 0,2.25px 0.00px 0,2.25px 0.70px 0,2.25px 1.40px 0,2.25px 2.10px 0,2.25px 2.80px 0,2.25px 3.50px 0,3.00px 0.00px 0,3.00px 0.70px 0,3.00px 1.40px 0,3.00px 2.10px 0,3.00px 2.80px 0,3.00px 3.50px 0;"><span style="font-weight:700">29</span></div>
<div class="t" style="left:522.50px;top:1020.12px;font-size:24.42px;line-height:24.42px;color:#2a2a2a;transform:scaleX(1.0241);"><span style="font-weight:400">TIPOS DE CÁNCER</span></div>
<div class="t" style="left:521.17px;top:1049.41px;font-size:40.26px;line-height:40.26px;color:#000;transform:scaleX(1.0673);"><span style="font-weight:700">DISTINTOS</span></div>
<div class="t" style="left:305.00px;top:1170.99px;font-size:17.73px;line-height:17.73px;color:#000;transform:scaleX(0.9959);"><span style="font-weight:700">Gobierno</span></div>
<div class="t" style="left:290.50px;top:1190.92px;font-size:18.17px;line-height:18.17px;color:#000;transform:scaleX(0.9824);"><span style="font-weight:700">de Navarra</span></div>
<div class="t" style="left:432.17px;top:1170.99px;font-size:17.73px;line-height:17.73px;color:#000;transform:scaleX(1.0310);"><span style="font-weight:700">Nafarroako</span></div>
<div class="t" style="left:433.20px;top:1190.92px;font-size:18.17px;line-height:18.17px;color:#000;transform:scaleX(0.9671);"><span style="font-weight:700">Gobernua</span></div>
<div class="t" style="left:556.20px;top:1194.30px;font-size:9.45px;line-height:9.45px;color:#222;transform:scaleX(1.0552);"><span style="font-weight:400">AGENDA</span></div>
<div class="t" style="left:556.20px;top:1203.59px;font-size:10.17px;line-height:10.17px;color:#111;transform:scaleX(1.8653);text-shadow:0.00px 0.60px 0;"><span style="font-weight:400;color:#111">20</span><span style="font-weight:400;color:#E30613">30</span></div>
<div class="t" style="left:1102.72px;top:89.32px;font-size:55.96px;line-height:55.96px;color:#0B0B0B;transform:scaleX(1.0783);text-shadow:0.00px 0.75px 0,0.00px 1.50px 0;"><span style="font-weight:700">SUPERVIVENCIA NETA</span></div>
<div class="t" style="left:963.18px;top:154.47px;font-size:57.56px;line-height:57.56px;color:#E8494B;transform:scaleX(1.0171);"><span style="font-weight:400">TRAS 5 AÑOS DEL DIAGNÓSTICO</span></div>
<div class="t" style="left:1267.94px;top:410.77px;font-size:39.24px;line-height:39.24px;color:#0B0B0B;transform:scaleX(1.0598);"><span style="font-weight:700">SUPERVIVENCIA</span></div>
<div class="t" style="left:1338.24px;top:457.26px;font-size:38.66px;line-height:38.66px;color:#0B0B0B;transform:scaleX(1.0793);"><span style="font-weight:700">MÁS ALTA</span></div>
<div class="t" style="left:1042.89px;top:395.95px;font-size:62.07px;line-height:62.07px;color:#FFFFFF;transform:scaleX(1.1056);text-shadow:0.00px 0.75px 0,0.00px 1.50px 0,0.50px 0.00px 0,0.50px 0.75px 0,0.50px 1.50px 0,1.00px 0.00px 0,1.00px 0.75px 0,1.00px 1.50px 0;"><span style="font-weight:700">60%</span></div>
<div class="t" style="left:1043.01px;top:453.89px;font-size:25.87px;line-height:25.87px;color:#FFFFFF;transform:scaleX(1.0444);"><span style="font-weight:400">HOMBRES</span></div>
<div class="t" style="left:1708.23px;top:395.08px;font-size:62.50px;line-height:62.50px;color:#FFFFFF;transform:scaleX(1.0872);text-shadow:0.00px 0.75px 0,0.00px 1.50px 0,0.50px 0.00px 0,0.50px 0.75px 0,0.50px 1.50px 0,1.00px 0.00px 0,1.00px 0.75px 0,1.00px 1.50px 0;"><span style="font-weight:700">64%</span></div>
<div class="t" style="left:1710.83px;top:456.32px;font-size:25.73px;line-height:25.73px;color:#FFFFFF;transform:scaleX(1.0331);"><span style="font-weight:400">MUJERES</span></div>
<div class="t" style="left:1004.16px;top:764.02px;font-size:22.53px;line-height:22.53px;color:#FFFFFF;transform:scaleX(1.0354);"><span style="font-weight:400">CÁNCER DE TIROIDES </span><span style="font-weight:700">(94%)</span></div>
<div class="t" style="left:1006.20px;top:834.17px;font-size:22.53px;line-height:22.53px;color:#FFFFFF;transform:scaleX(1.0085);"><span style="font-weight:400">TESTÍCULO </span><span style="font-weight:700">(92%)</span></div>
<div class="t" style="left:1005.16px;top:904.32px;font-size:22.53px;line-height:22.53px;color:#FFFFFF;transform:scaleX(1.0400);"><span style="font-weight:400">PRÓSTATA </span><span style="font-weight:700">(89%)</span></div>
<div class="t" style="left:1005.14px;top:974.47px;font-size:22.53px;line-height:22.53px;color:#FFFFFF;transform:scaleX(1.0636);"><span style="font-weight:400">MELANOMA DE PIEL </span><span style="font-weight:700">(86%)</span></div>
<div class="t" style="left:1005.13px;top:1044.62px;font-size:22.53px;line-height:22.53px;color:#FFFFFF;transform:scaleX(1.0702);"><span style="font-weight:400">LINFOMA DE HODGKIN </span><span style="font-weight:700">(84%)</span></div>
<div class="t" style="left:1555.66px;top:764.02px;font-size:22.53px;line-height:22.53px;color:#FFFFFF;transform:scaleX(1.0351);"><span style="font-weight:400">CÁNCER DE TIROIDES </span><span style="font-weight:700">(96%)</span></div>
<div class="t" style="left:1556.44px;top:834.17px;font-size:22.53px;line-height:22.53px;color:#FFFFFF;transform:scaleX(1.0629);"><span style="font-weight:400">MELANOMA DE PIEL </span><span style="font-weight:700">(92%)</span></div>
<div class="t" style="left:1556.43px;top:904.32px;font-size:22.53px;line-height:22.53px;color:#FFFFFF;transform:scaleX(1.0741);"><span style="font-weight:400">LINFOMA DE HODGKIN </span><span style="font-weight:700">(88%)</span></div>
<div class="t" style="left:1556.42px;top:974.47px;font-size:22.53px;line-height:22.53px;color:#FFFFFF;transform:scaleX(1.0841);"><span style="font-weight:400">MAMA </span><span style="font-weight:700">(87%)</span></div>
<div class="t" style="left:1556.85px;top:1048.31px;font-size:19.48px;line-height:19.48px;color:#FFFFFF;transform:scaleX(1.0536);"><span style="font-weight:400">LEUCEMIA LINFOIDE CRÓNICA </span><span style="font-weight:700">(86%)</span></div>
<div class="t" style="left:909.70px;top:1138.33px;font-size:17.44px;line-height:17.44px;color:#1E1E1E;transform:scaleX(1.0957);"><span style="font-weight:400">Estudio “Supervivencia de los pacientes con cáncer en Navarra y comparación con España”, realizado por el Instituto de</span></div>
<div class="t" style="left:1000.30px;top:1163.23px;font-size:17.44px;line-height:17.44px;color:#1E1E1E;transform:scaleX(1.0762);"><span style="font-weight:400">Salud Pública y Laboral de Navarra. Publicado en los Anales del Sistema Sanitario de Navarra 2023.</span></div>
</body></html>
